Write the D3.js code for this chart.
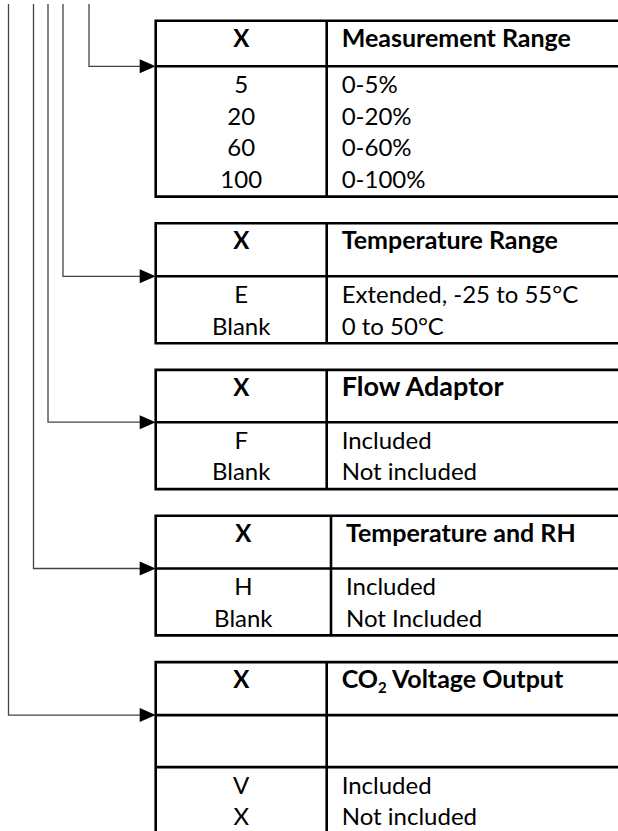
<!DOCTYPE html>
<html>
<head>
<meta charset="utf-8">
<script src="https://cdn.jsdelivr.net/npm/d3@7"></script>
<style>
  html, body { margin: 0; padding: 0; background: #fff; overflow: hidden; }
  svg { display: block; font-family: Lato, "Open Sans", sans-serif; }
</style>
</head>
<body>
<div id="chart"></div>
<script>
var width = 618;
var height = 831;

// option tables, top to bottom
var titles = ["Measurement Range", "Temperature Range", "Flow Adaptor", "Temperature and RH", "CO2 Voltage Output"];
var codes = [
	["5", "20", "60", "100"],
	["E", "Blank"],
	["F", "Blank"],
	["H", "Blank"],
	["V", "X"]
	];
var descriptions = [
	["0-5%", "0-20%", "0-60%", "0-100%"],
	["Extended, -25 to 55°C", "0 to 50°C"],
	["Included", "Not included"],
	["Included", "Not Included"],
	["Included", "Not included"]
	];
var headerCode = "X";

// layout (kept apart from the data)
var tableLeft = 155.7;
var tableRight = 640;          // runs off the right edge like the original
var firstTop = 20.7;
var gap = 26.7;
var rowStep = 31.7;
var headerH = [45.6, 53, 52.3, 52.7, 53];
var blankRowH = [0, 0, 0, 0, 52];
var dividerX = [326.7, 326.7, 326.7, 331, 326.7];
var connectorX = [89, 63, 48, 33.5, 8.5];
var connectorTop = 4;

// stack the tables
var tables = [];
var cursor = firstTop;
titles.forEach(function(t, i) {
	var sep = cursor + headerH[i];
	var bodyTop = sep + blankRowH[i];
	var bottom = bodyTop + codes[i].length * rowStep + 3.5;
	tables.push({
		i: i, title: t, top: cursor, sep: sep, bodyTop: bodyTop, bottom: bottom,
		rows: codes[i].map(function(c, j) { return { code: c, desc: descriptions[i][j], j: j }; })
		});
	cursor = bottom + gap;
	});

var svg = d3.select("#chart")
	.append("svg")
		.attr("width", width)
		.attr("height", height)
	;

// connector lines with arrow heads
var conn = svg.selectAll("g.conn")
	.data(tables)
	.enter()
	.append("g")
		.attr("class", "conn")
	;

conn.append("path")
	.attr("fill", "none")
	.attr("stroke", "#444")
	.attr("stroke-width", 1.3)
	.attr("d", d => "M" + connectorX[d.i] + "," + connectorTop +
		"V" + d.sep + "H" + (tableLeft - 14))
	;

conn.append("path")
	.attr("fill", "#000")
	.attr("d", d => "M" + tableLeft + "," + d.sep +
		"L" + (tableLeft - 16) + "," + (d.sep - 7) +
		"L" + (tableLeft - 16) + "," + (d.sep + 7) + "Z")
	;

// tables
var tbl = svg.selectAll("g.tbl")
	.data(tables)
	.enter()
	.append("g")
		.attr("class", "tbl")
	;

// last table runs off the bottom, no bottom border
tbl.append("path")
	.attr("fill", "none")
	.attr("stroke", "#000")
	.attr("stroke-width", 2.6)
	.attr("d", function(d) {
		var last = d.i === tables.length - 1;
		var bottom = last ? height + 10 : d.bottom;
		var p = "M" + tableRight + "," + d.top + "H" + tableLeft + "V" + bottom;
		if (!last) p += "H" + tableRight;
		p += "M" + tableLeft + "," + d.sep + "H" + tableRight;
		if (d.bodyTop !== d.sep) p += "M" + tableLeft + "," + d.bodyTop + "H" + tableRight;
		p += "M" + dividerX[d.i] + "," + d.top + "V" + bottom;
		return p;
		})
	;

// header cells
tbl.append("text")
	.attr("x", d => (tableLeft + dividerX[d.i]) / 2)
	.attr("y", d => d.top + 26)
	.attr("text-anchor", "middle")
	.attr("font-weight", "bold")
	.attr("font-size", 24)
	.text(headerCode)
	;

tbl.append("text")
	.attr("x", d => dividerX[d.i] + 15)
	.attr("y", d => d.top + 26)
	.attr("font-weight", "bold")
	.attr("font-size", d => d.title === "Flow Adaptor" ? 27 : 25)
	.each(function(d) {
		var el = d3.select(this);
		if (d.title.indexOf("CO2") === 0) {
			el.append("tspan").text("CO");
			el.append("tspan").attr("font-size", 15).attr("dy", 5).text("2");
			el.append("tspan").attr("dy", -5).text(d.title.slice(3));
			}
		else el.text(d.title);
		})
	;

// option rows
var row = tbl.selectAll("g.row")
	.data(d => d.rows.map(r => Object.assign({ t: d }, r)))
	.enter()
	.append("g")
		.attr("class", "row")
	;

row.append("text")
	.attr("x", d => (tableLeft + dividerX[d.t.i]) / 2)
	.attr("y", d => d.t.bodyTop + 26.5 + d.j * rowStep)
	.attr("text-anchor", "middle")
	.attr("font-size", 24)
	.text(d => d.code)
	;

row.append("text")
	.attr("x", d => dividerX[d.t.i] + 15)
	.attr("y", d => d.t.bodyTop + 26.5 + d.j * rowStep)
	.attr("font-size", 24)
	.text(d => d.desc)
	;
</script>
</body>
</html>
